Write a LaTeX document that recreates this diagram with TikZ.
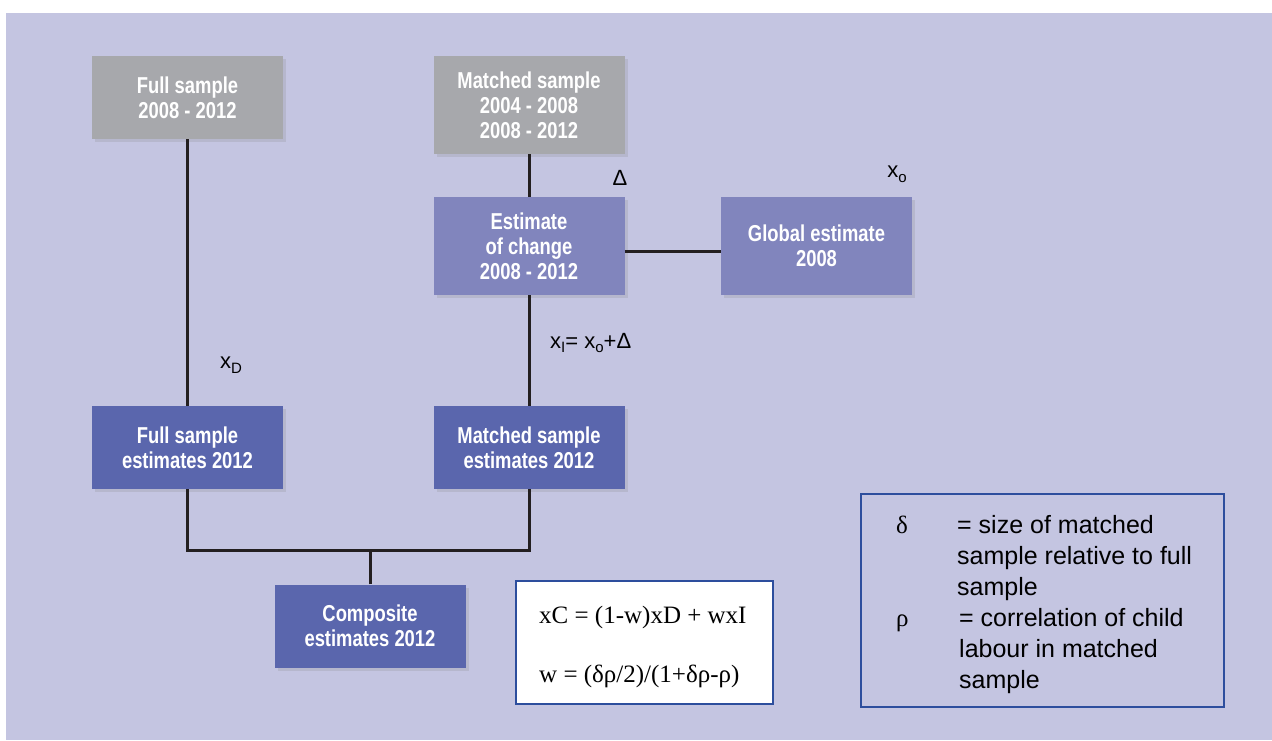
\documentclass[tikz,border=0pt]{standalone}
\usepackage{fontspec}
\setmainfont{Liberation Sans}
\newfontfamily\boxfont[FakeStretch=0.8]{Liberation Sans}
\newfontfamily\formfont{Liberation Serif}
\usetikzlibrary{shadows}

\definecolor{bglav}{HTML}{C4C5E1}
\definecolor{greybox}{HTML}{A7A8AC}
\definecolor{midblue}{HTML}{8185BD}
\definecolor{darkblue}{HTML}{5A66AD}
\definecolor{frameblue}{HTML}{2D4E9D}
\definecolor{linecol}{HTML}{231F20}

\newcommand\lowsub[1]{\raisebox{-0.4ex}{\fontsize{15}{15}\selectfont #1}}

\tikzset{
  stagebox/.style={rectangle, minimum width=191pt, minimum height=83pt, inner sep=0pt, align=center, text=white,
    font=\boxfont\bfseries\fontsize{23}{25}\selectfont,
    drop shadow={shadow xshift=3pt, shadow yshift=-3pt, opacity=0.2}},
  rawbox/.style={stagebox, fill=greybox},
  midbox/.style={stagebox, fill=midblue, minimum height=98pt},
  estbox/.style={stagebox, fill=darkblue},
  link/.style={draw=linecol, line width=3pt},
  lbl/.style={font=\fontsize{22}{26}\selectfont, inner sep=0pt},
  legtext/.style={font=\fontsize{25}{31}\selectfont, inner sep=0pt, align=left, anchor=base west},
  frame/.style={draw=frameblue, line width=1.5pt}
}

\begin{document}
\begin{tikzpicture}[x=1pt, y=-1pt]
\useasboundingbox (0,0) rectangle (1272,740);
\fill [bglav] (6,13) rectangle (1272,740);

\node (FullSamp) at (187.5,97.5) [rawbox] {Full sample\\2008 - 2012};
\node (MatchSamp) at (529,105) [rawbox, minimum height=98pt] {Matched sample\\2004 - 2008\\2008 - 2012};
\node (Change) at (529,246) [midbox] {Estimate\\of change\\2008 - 2012};
\node (Global) at (816.5,246) [midbox] {Global estimate\\2008};

\node (FullEst) at (187.5,447.5) [estbox] {Full sample\\estimates 2012};
\node (MatchEst) at (529,447.5) [estbox] {Matched sample\\estimates 2012};
\node (Composite) at (370,626) [estbox] {Composite\\estimates 2012};
\coordinate (Join) at (370,550);

\draw [link] (FullSamp) -- (FullEst);
\draw [link] (MatchSamp) -- (Change);
\draw [link] ([yshift=-5pt]Change.east) -- ([yshift=-5pt]Global.west);
\draw [link] (Change) -- (MatchEst);
\draw [link] (FullEst.south) |- (Join) -| (MatchEst.south);
\draw [link] (Composite) -- (Join);

\node (Delta) at (620,178) [lbl] {Δ};
\node (Xo) at (897,174) [lbl] {x\lowsub{o}};
\node (XI) at (550,343) [lbl, anchor=west] {x\lowsub{I}= x\lowsub{o}+Δ};
\node (XD) at (231,365) [lbl] {x\lowsub{D}};

% weighting formula
\node (Formula) at (644.5,642.5) [frame, fill=white, minimum width=257pt, minimum height=123pt] {};
\node (FormA) at (539,623) [anchor=base west, inner sep=0pt, font=\formfont\fontsize{25}{28}\selectfont] {xC = (1-w)xD + wxI};
\node (FormB) at (539,682) [anchor=base west, inner sep=0pt, font=\formfont\fontsize{25}{28}\selectfont] {w = (δρ/2)/(1+δρ-ρ)};

% legend
\node (Legend) at (1042.5,600.5) [frame, minimum width=363pt, minimum height=213pt] {};
\node (DeltaSym) at (896,533) [anchor=base west, inner sep=0pt, font=\formfont\fontsize{25}{31}\selectfont] {δ};
\node (DeltaTxt) at (957,595) [legtext] {= size of matched\\sample relative to full\\sample};
\node (RhoSym) at (896,626) [anchor=base west, inner sep=0pt, font=\formfont\fontsize{25}{31}\selectfont] {ρ};
\node (RhoTxt) at (959,688) [legtext] {= correlation of child\\labour in matched\\sample};
\end{tikzpicture}
\end{document}
